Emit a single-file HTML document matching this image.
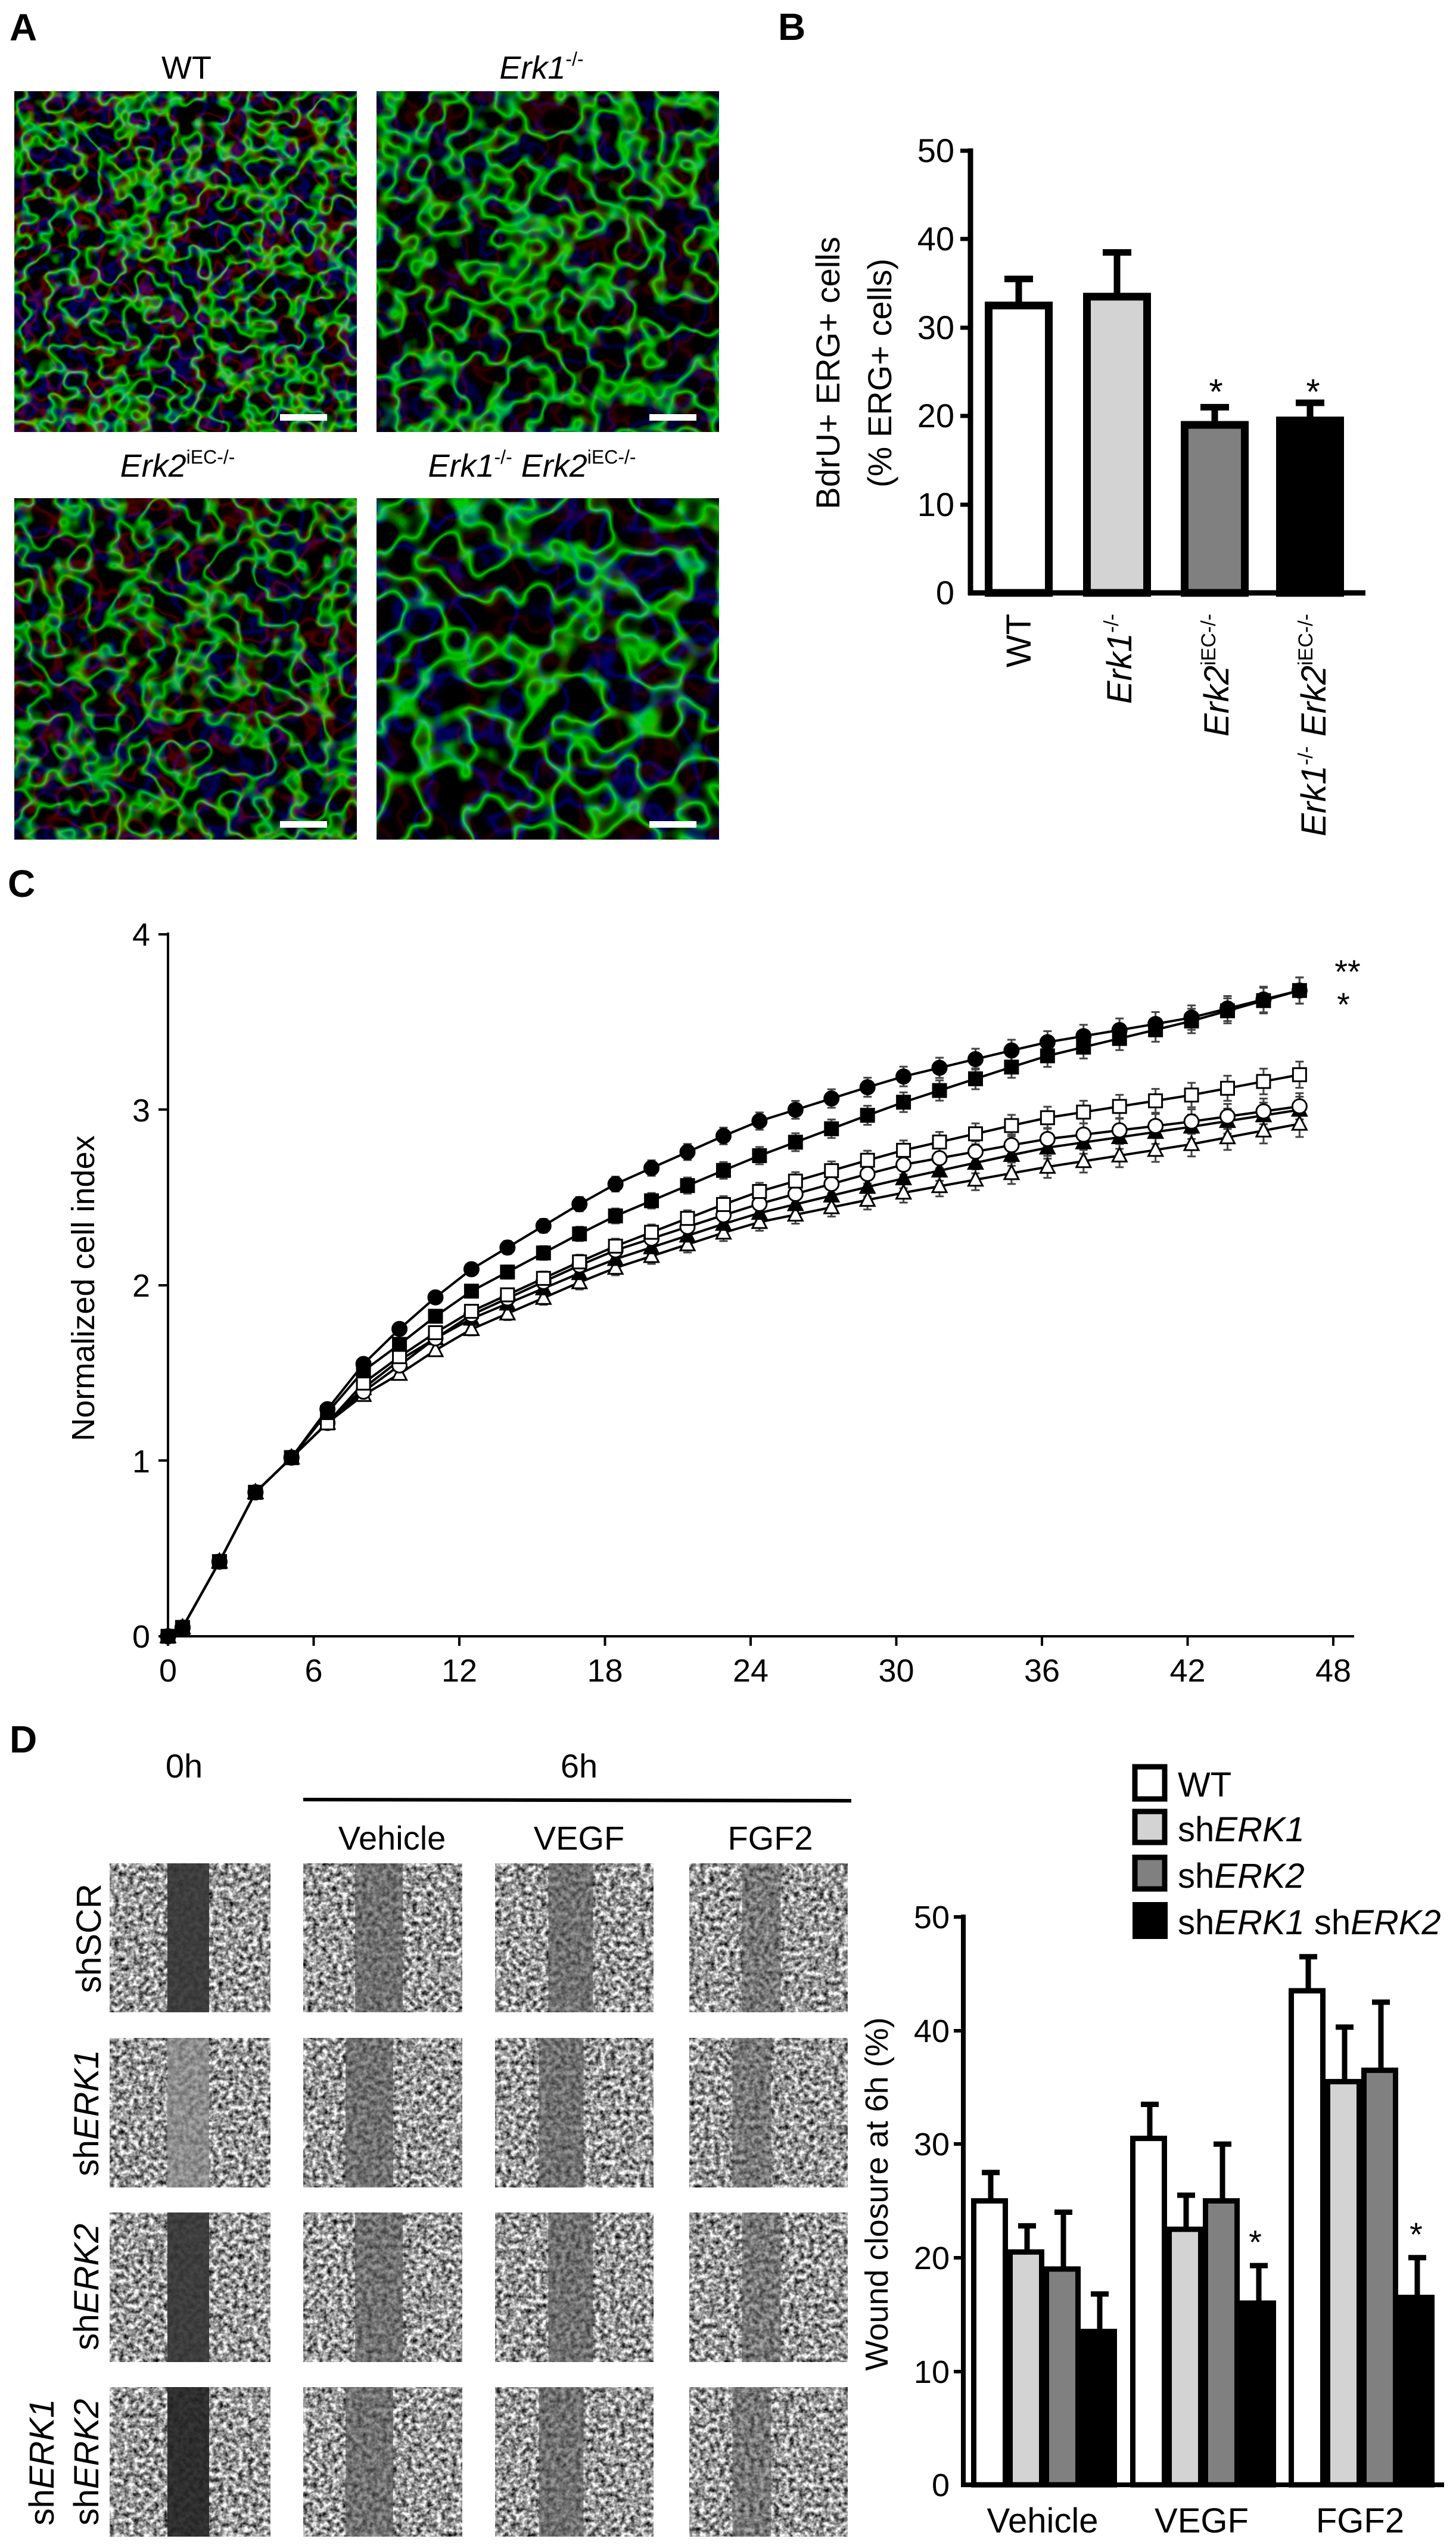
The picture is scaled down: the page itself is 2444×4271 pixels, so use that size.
<!DOCTYPE html>
<html><head><meta charset="utf-8">
<style>
html,body{margin:0;padding:0;background:#fff;}
svg{display:block;}
text{font-family:"Liberation Sans",Arial,sans-serif;fill:#000;}
filter{color-interpolation-filters:sRGB;}
</style></head>
<body>
<svg id="s" width="2444" height="4271" viewBox="0 0 2444 4271" xmlns="http://www.w3.org/2000/svg">
<defs>
<filter id="fl1" x="0" y="0" width="100%" height="100%" color-interpolation-filters="sRGB">
 <feTurbulence type="fractalNoise" baseFrequency="0.024" numOctaves="2" seed="3"/>
 <feComponentTransfer>
  <feFuncR type="table" tableValues="0 0 0 0 0 0 0 0 0 0.1 0.35 0.1 0 0 0 0 0 0 0 0 0"/>
  <feFuncG type="table" tableValues="0 0 0 0 0 0 0 0 0 0.35 0.8 0.35 0 0 0 0 0 0 0 0 0"/>
  <feFuncB type="table" tableValues="0 0 0 0 0 0 0 0 0 0.15 0.4 0.15 0 0 0 0 0 0 0 0 0"/>
  <feFuncA type="table" tableValues="1 1"/>
 </feComponentTransfer>
</filter>
<filter id="fl2" x="0" y="0" width="100%" height="100%" color-interpolation-filters="sRGB">
 <feTurbulence type="fractalNoise" baseFrequency="0.018" numOctaves="2" seed="9"/>
 <feComponentTransfer>
  <feFuncR type="table" tableValues="0 0 0 0 0 0 0 0 0 0.05 0.2 0.05 0 0 0 0 0 0 0 0 0"/>
  <feFuncG type="table" tableValues="0 0 0 0 0 0 0 0 0 0.35 0.8 0.35 0 0 0 0 0 0 0 0 0"/>
  <feFuncB type="table" tableValues="0 0 0 0 0 0 0 0 0 0.08 0.3 0.08 0 0 0 0 0 0 0 0 0"/>
  <feFuncA type="table" tableValues="1 1"/>
 </feComponentTransfer>
</filter>
<filter id="fl3" x="0" y="0" width="100%" height="100%" color-interpolation-filters="sRGB">
 <feTurbulence type="fractalNoise" baseFrequency="0.02" numOctaves="2" seed="21"/>
 <feComponentTransfer>
  <feFuncR type="table" tableValues="0 0 0 0 0 0 0 0 0 0.08 0.3 0.08 0 0 0 0 0 0 0 0 0"/>
  <feFuncG type="table" tableValues="0 0 0 0 0 0 0 0 0 0.3 0.75 0.3 0 0 0 0 0 0 0 0 0"/>
  <feFuncB type="table" tableValues="0 0 0 0 0 0 0 0 0 0.1 0.35 0.1 0 0 0 0 0 0 0 0 0"/>
  <feFuncA type="table" tableValues="1 1"/>
 </feComponentTransfer>
</filter>
<filter id="fl4" x="0" y="0" width="100%" height="100%" color-interpolation-filters="sRGB">
 <feTurbulence type="fractalNoise" baseFrequency="0.014" numOctaves="2" seed="40"/>
 <feComponentTransfer>
  <feFuncR type="table" tableValues="0 0 0 0 0 0 0 0 0 0.03 0.15 0.03 0 0 0 0 0 0 0 0 0"/>
  <feFuncG type="table" tableValues="0 0 0 0 0 0 0 0 0 0.3 0.8 0.3 0 0 0 0 0 0 0 0 0"/>
  <feFuncB type="table" tableValues="0 0 0 0 0 0 0 0 0 0.1 0.4 0.1 0 0 0 0 0 0 0 0 0"/>
  <feFuncA type="table" tableValues="1 1"/>
 </feComponentTransfer>
</filter>
<filter id="gr" x="0" y="0" width="100%" height="100%" color-interpolation-filters="sRGB">
 <feTurbulence type="fractalNoise" baseFrequency="0.12" numOctaves="3" seed="5"/>
 <feColorMatrix type="matrix" values="1.6 0 0 0 -0.2  1.6 0 0 0 -0.2  1.6 0 0 0 -0.2  0 0 0 0 1"/>
</filter>
</defs>

<!-- Panel A -->
<text x="16" y="68" font-size="64" font-weight="bold">A</text>
<text x="313" y="132" font-size="54" text-anchor="middle">WT</text>
<text x="909" y="132" font-size="54" text-anchor="middle" font-style="italic">Erk1<tspan font-size="32" dy="-22" font-style="normal">-/-</tspan></text>
<text x="298" y="800" font-size="54" text-anchor="middle" font-style="italic">Erk2<tspan font-size="32" dy="-22" font-style="normal">iEC-/-</tspan></text>
<text x="893" y="800" font-size="54" text-anchor="middle" font-style="italic">Erk1<tspan font-size="32" dy="-22" font-style="normal">-/-</tspan><tspan dy="22"> Erk2</tspan><tspan font-size="32" dy="-22" font-style="normal">iEC-/-</tspan></text>
<rect x="24" y="153" width="575" height="572" fill="#000"/>
<rect x="24" y="153" width="575" height="572" filter="url(#fl1)"/>
<rect x="632" y="153" width="575" height="572" fill="#000"/>
<rect x="632" y="153" width="575" height="572" filter="url(#fl2)"/>
<rect x="24" y="836" width="575" height="573" fill="#000"/>
<rect x="24" y="836" width="575" height="573" filter="url(#fl3)"/>
<rect x="632" y="836" width="575" height="573" fill="#000"/>
<rect x="632" y="836" width="575" height="573" filter="url(#fl4)"/>
<rect x="470" y="695" width="79" height="11" fill="#fff"/>
<rect x="1090" y="695" width="79" height="11" fill="#fff"/>
<rect x="470" y="1378" width="79" height="11" fill="#fff"/>
<rect x="1090" y="1378" width="79" height="11" fill="#fff"/>

<!-- Panel B -->
<text x="1306" y="67" font-size="64" font-weight="bold">B</text>
<g font-size="56" text-anchor="end">
<text x="1602" y="272">50</text><text x="1602" y="420">40</text><text x="1602" y="569">30</text>
<text x="1602" y="717">20</text><text x="1602" y="866">10</text><text x="1602" y="1014">0</text>
</g>
<g stroke="#000" stroke-width="7">
<line x1="1612" y1="253" x2="1629" y2="253"/><line x1="1612" y1="401" x2="1629" y2="401"/>
<line x1="1612" y1="550" x2="1629" y2="550"/><line x1="1612" y1="698" x2="1629" y2="698"/>
<line x1="1612" y1="847" x2="1629" y2="847"/>
</g>
<g font-size="56" text-anchor="middle">
<text transform="translate(1409,626) rotate(-90)">BdrU+ ERG+ cells</text>
<text transform="translate(1496,626) rotate(-90)">(% ERG+ cells)</text>
</g>
<g id="barsB"></g>
<line x1="1629" y1="249" x2="1629" y2="999" stroke="#000" stroke-width="9"/>
<line x1="1625" y1="995" x2="2292" y2="995" stroke="#000" stroke-width="9"/>
<g font-size="58" text-anchor="end">
<text transform="translate(1730,1030) rotate(-90)">WT</text>
<text transform="translate(1899,1030) rotate(-90)" font-style="italic">Erk1<tspan font-size="34" dy="-22" font-style="normal">-/-</tspan></text>
<text transform="translate(2062,1030) rotate(-90)" font-style="italic">Erk2<tspan font-size="34" dy="-22" font-style="normal">iEC-/-</tspan></text>
<text transform="translate(2225,1030) rotate(-90)" font-style="italic">Erk1<tspan font-size="34" dy="-22" font-style="normal">-/-</tspan><tspan dy="22"> Erk2</tspan><tspan font-size="34" dy="-22" font-style="normal">iEC-/-</tspan></text>
</g>
<g font-size="60" text-anchor="middle">
<text x="2041" y="678">*</text><text x="2204" y="678">*</text>
</g>

<!-- Panel C -->
<text x="13" y="1505" font-size="64" font-weight="bold">C</text>
<g font-size="54" text-anchor="end">
<text x="252" y="1587">4</text><text x="252" y="1882">3</text><text x="252" y="2176">2</text>
<text x="252" y="2471">1</text><text x="252" y="2765">0</text>
</g>
<g stroke="#000" stroke-width="4">
<line x1="266" y1="1568" x2="282" y2="1568"/><line x1="266" y1="1862" x2="282" y2="1862"/>
<line x1="266" y1="2157" x2="282" y2="2157"/><line x1="266" y1="2451" x2="282" y2="2451"/>
<line x1="266" y1="2746" x2="282" y2="2746"/>
<line x1="282" y1="1565" x2="282" y2="2748"/>
<line x1="280" y1="2746" x2="2273" y2="2746"/>
</g>
<text transform="translate(158,2162) rotate(-90)" font-size="54" text-anchor="middle">Normalized cell index</text>
<g id="xtC" font-size="54" text-anchor="middle"></g>
<g id="curves"></g>
<text x="2262" y="1650" font-size="56" text-anchor="middle">**</text>
<text x="2255" y="1705" font-size="56" text-anchor="middle">*</text>

<!-- Panel D -->
<text x="16" y="2941" font-size="64" font-weight="bold">D</text>
<g font-size="56" text-anchor="middle">
<text x="309" y="2983">0h</text>
<text x="972" y="2983">6h</text>
<text x="658" y="3104">Vehicle</text>
<text x="972" y="3104">VEGF</text>
<text x="1293" y="3104">FGF2</text>
</g>
<line x1="509" y1="3020" x2="1429" y2="3022" stroke="#000" stroke-width="6"/>
<g id="wound"></g>
<g font-size="58" text-anchor="middle">
<text transform="translate(169,3253) rotate(-90)">shSCR</text>
<text transform="translate(165,3546) rotate(-90)">sh<tspan font-style="italic">ERK1</tspan></text>
<text transform="translate(165,3838) rotate(-90)">sh<tspan font-style="italic">ERK2</tspan></text>
<text transform="translate(90,4132) rotate(-90)">sh<tspan font-style="italic">ERK1</tspan></text>
<text transform="translate(165,4132) rotate(-90)">sh<tspan font-style="italic">ERK2</tspan></text>
</g>

<!-- D bar chart -->
<g font-size="54" text-anchor="end">
<text x="1594" y="3236">50</text><text x="1594" y="3427">40</text><text x="1594" y="3617">30</text>
<text x="1594" y="3808">20</text><text x="1594" y="3999">10</text><text x="1594" y="4189">0</text>
</g>
<g stroke="#000" stroke-width="6">
<line x1="1601" y1="3217" x2="1617" y2="3217"/><line x1="1601" y1="3408" x2="1617" y2="3408"/>
<line x1="1601" y1="3598" x2="1617" y2="3598"/><line x1="1601" y1="3789" x2="1617" y2="3789"/>
<line x1="1601" y1="3980" x2="1617" y2="3980"/>
</g>
<text transform="translate(1490,3682) rotate(-90)" font-size="54" text-anchor="middle">Wound closure at 6h (%)</text>
<g id="barsD"></g>
<line x1="1617" y1="3213" x2="1617" y2="4174" stroke="#000" stroke-width="8"/>
<line x1="1613" y1="4170" x2="2424" y2="4170" stroke="#000" stroke-width="8"/>
<g font-size="58" text-anchor="middle">
<text x="1750" y="4250">Vehicle</text><text x="2017" y="4250">VEGF</text><text x="2283" y="4250">FGF2</text>
</g>
<g font-size="56" text-anchor="middle"><text x="2107" y="3782">*</text><text x="2377" y="3769">*</text></g>
<!-- legend -->
<rect x="1905" y="2965" width="50" height="54" fill="#fff" stroke="#000" stroke-width="9"/>
<rect x="1905" y="3040" width="50" height="52" fill="#d3d3d3" stroke="#000" stroke-width="9"/>
<rect x="1905" y="3117" width="50" height="53" fill="#808080" stroke="#000" stroke-width="9"/>
<rect x="1901" y="3192" width="59" height="62" fill="#000"/>
<g font-size="58">
<text x="1977" y="3015">WT</text>
<text x="1977" y="3090">sh<tspan font-style="italic">ERK1</tspan></text>
<text x="1977" y="3168">sh<tspan font-style="italic">ERK2</tspan></text>
<text x="1977" y="3246">sh<tspan font-style="italic">ERK1</tspan> sh<tspan font-style="italic">ERK2</tspan></text>
</g>
</svg>
<script>
var NS="http://www.w3.org/2000/svg";
function el(p,t,a){var e=document.createElementNS(NS,t);for(var k in a)e.setAttribute(k,a[k]);p.appendChild(e);return e;}
(function(){
 var g=document.getElementById('barsB');
 var bars=[[1653,32.5,35.5,'#fff'],[1818,33.5,38.5,'#d3d3d3'],[1982,19,21,'#808080'],[2142,19.5,21.5,'#000']];
 bars.forEach(function(b){
  var top=995-b[1]*14.84, et=995-b[2]*14.84, cx=b[0]+57;
  el(g,'line',{x1:cx,y1:top,x2:cx,y2:et,stroke:'#000','stroke-width':11});
  el(g,'line',{x1:cx-24,y1:et,x2:cx+24,y2:et,stroke:'#000','stroke-width':11});
  el(g,'rect',{x:b[0]+6.5,y:top,width:101,height:995-top,fill:b[3],stroke:'#000','stroke-width':13});
 });
})();
(function(){
 var g=document.getElementById('barsD');
 var cols=['#fff','#d3d3d3','#808080','#000'];
 var data=[[[25,27.5],[20.5,22.8],[19,24],[13.5,16.8]],[[30.5,33.5],[22.5,25.5],[25,30],[16,19.3]],[[43.5,46.5],[35.5,40.3],[36.5,42.5],[16.5,20]]];
 var starts=[1630,1897,2163];
 data.forEach(function(grp,gi){
  grp.forEach(function(b,i){
   var x=starts[gi]+i*61, top=4170-b[0]*19.06, et=4170-b[1]*19.06, cx=x+33;
   el(g,'line',{x1:cx,y1:top,x2:cx,y2:et,stroke:'#000','stroke-width':9});
   el(g,'line',{x1:cx-15,y1:et,x2:cx+15,y2:et,stroke:'#000','stroke-width':9});
   el(g,'rect',{x:x+4.5,y:top,width:53,height:4170-top,fill:cols[i],stroke:'#000','stroke-width':9});
  });
 });
})();
(function(){
 var xt=document.getElementById('xtC');
 for(var h=0;h<=48;h+=6){var x=282+h*40.75;
  el(xt,'line',{x1:x,y1:2746,x2:x,y2:2762,stroke:'#000','stroke-width':4});
  var t=el(xt,'text',{x:x,y:2822});t.textContent=h;}
 var K=[0,0.6,2.1,3.6,5.1,6.6,8.1,9.6,12,18,24,30,36,42,46.6];
 var S=[
  {v:[0,.05,.42,.82,1.02,1.22,1.38,1.5,1.72,2.08,2.35,2.52,2.67,2.8,2.92],m:'tri',f:'#fff'},
  {v:[0,.05,.42,.82,1.02,1.22,1.42,1.58,1.78,2.13,2.4,2.6,2.78,2.9,3.0],m:'tri',f:'#000'},
  {v:[0,.05,.42,.82,1.02,1.22,1.4,1.55,1.8,2.18,2.45,2.68,2.83,2.93,3.02],m:'c',f:'#fff'},
  {v:[0,.05,.42,.82,1.02,1.22,1.45,1.6,1.82,2.2,2.52,2.76,2.95,3.08,3.2],m:'sq',f:'#fff'},
  {v:[0,.05,.42,.82,1.02,1.28,1.52,1.67,1.93,2.37,2.72,3.03,3.3,3.5,3.68],m:'sq',f:'#000'},
  {v:[0,.05,.42,.82,1.02,1.3,1.56,1.76,2.05,2.55,2.92,3.18,3.38,3.52,3.68],m:'c',f:'#000'}
 ];
 function interp(v,t){for(var i=0;i<K.length-1;i++){if(t<=K[i+1]){var f=(t-K[i])/(K[i+1]-K[i]);return v[i]+f*(v[i+1]-v[i]);}}return v[v.length-1];}
 var T=[0,0.6];for(var k=0;k<=30;k++)T.push(2.12+1.483*k);
 var g=document.getElementById('curves');
 S.forEach(function(s){
  var pts=T.map(function(t){return [282+t*40.75,2746-interp(s.v,t)*294.5];});
  el(g,'polyline',{points:pts.map(function(p){return p.join(',')}).join(' '),fill:'none',stroke:'#000','stroke-width':4});
  pts.forEach(function(p,i){
   if(i>4){var e=6+i*0.5;
    el(g,'line',{x1:p[0],y1:p[1]-e,x2:p[0],y2:p[1]+e,stroke:'#444','stroke-width':3});
    el(g,'line',{x1:p[0]-7,y1:p[1]-e,x2:p[0]+7,y2:p[1]-e,stroke:'#444','stroke-width':3});
    el(g,'line',{x1:p[0]-7,y1:p[1]+e,x2:p[0]+7,y2:p[1]+e,stroke:'#444','stroke-width':3});}
  });
 });
 S.forEach(function(s){
  T.forEach(function(t){var x=282+t*40.75,y=2746-interp(s.v,t)*294.5;
   var a={fill:s.f,stroke:'#000','stroke-width':3};
   if(s.m=='c'){a.cx=x;a.cy=y;a.r=12;el(g,'circle',a);}
   else if(s.m=='sq'){a.x=x-11;a.y=y-11;a.width=22;a.height=22;el(g,'rect',a);}
   else{a.points=(x)+','+(y-13)+' '+(x-12)+','+(y+10)+' '+(x+12)+','+(y+10);el(g,'polygon',a);}
  });
 });
})();
(function(){
 var g=document.getElementById('wound');
 var cx=[184,509,831,1157], cw=[270,267,266,266];
 var ry=[3127,3420,3713,4006], rh=[250,251,251,251];
 var bands=[[316,70,'#333',0.9],[628,80,'#555',0.6],[950,75,'#555',0.6],[1270,65,'#555',0.5]];
 for(var r=0;r<4;r++)for(var c=0;c<4;c++){
  var x=cx[c],y=ry[r],w=cw[c],h=rh[r];
  el(g,'rect',{x:x,y:y,width:w,height:h,fill:'#999'});
  el(g,'rect',{x:x,y:y,width:w,height:h,filter:'url(#gr)'});
  var b=bands[c];var col=b[2],op=b[3];
  if(c==0&&r==1){col='#888';op=0.7;}
  if(c==0&&r==3){col='#222';}
  var bx=b[0]+(c>0?(r%2?-8:8):0);
  el(g,'rect',{x:bx-b[1]/2,y:y,width:b[1],height:h,fill:col,opacity:op});
 }
})();
</script>
</body></html>
